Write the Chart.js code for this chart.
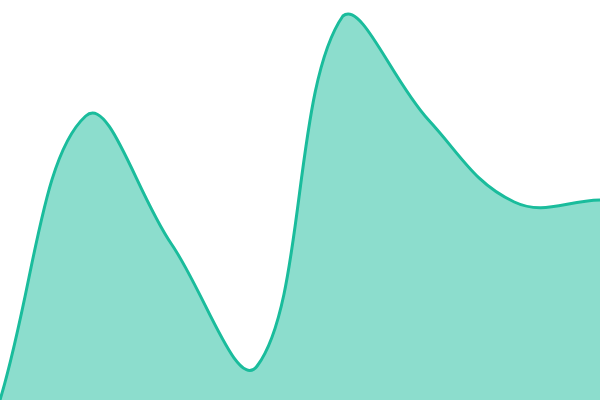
<!DOCTYPE html>
<html>
<head>
<meta charset="utf-8">
<script src="https://cdn.jsdelivr.net/npm/chart.js@4"></script>
<style>
  html, body { margin: 0; padding: 0; background: #fff; }
  #wrap { width: 600px; height: 400px; }
</style>
</head>
<body>
<div id="wrap"><canvas id="chart"></canvas></div>
<script>
// Values (scale 0..100, no axes shown)
const labels = ['1', '2', '3', '4', '5', '6', '7', '8'];
const values = [0, 71, 39, 8.5, 96, 70, 49.5, 50];

const ctx = document.getElementById('chart').getContext('2d');
new Chart(ctx, {
  type: 'line',
  data: {
    labels,
    datasets: [{
      data: values,
      borderColor: '#1abc9c',
      backgroundColor: 'rgba(26,188,156,0.5)',
      borderWidth: 3,
      fill: true,
      tension: 0.4,
      pointRadius: 0
    }]
  },
  options: {
    responsive: true,
    maintainAspectRatio: false,
    animation: false,
    layout: { padding: 0 },
    plugins: { legend: { display: false }, tooltip: { enabled: false } },
    scales: {
      x: { display: false },
      y: { display: false, min: 0, max: 100 }
    }
  }
});
</script>
</body>
</html>
